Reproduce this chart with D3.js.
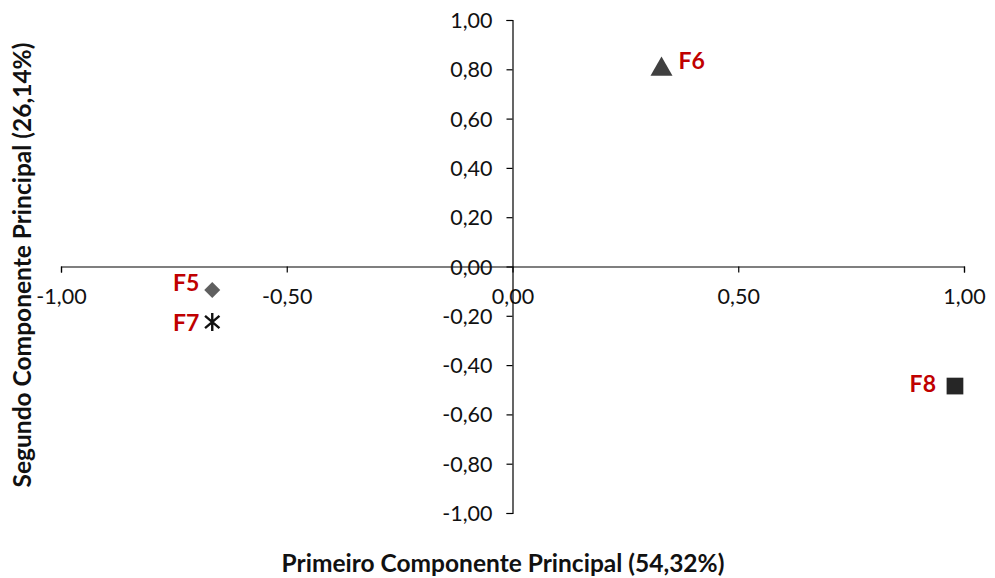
<!DOCTYPE html>
<html>
<head>
<meta charset="utf-8">
<script src="https://cdn.jsdelivr.net/npm/d3@7"></script>
<style>
  html, body { margin: 0; padding: 0; background: #fff; }
  svg { display: block; }
</style>
</head>
<body>
<svg id="chart" width="995" height="578"></svg>
<script>
// Factor loadings on the first two principal components
const names   = ["F5", "F6", "F7", "F8"];
const pc1     = [-0.665, 0.33, -0.665, 0.98];
const pc2     = [-0.095, 0.80, -0.225, -0.485];
const symbols = ["diamond", "triangle", "asterisk", "square"];
const colors  = ["#5f5f5f", "#404040", "#111111", "#262626"];

const xTicks = [-1, -0.5, 0, 0.5, 1];
const yTicks = [1, 0.8, 0.6, 0.4, 0.2, 0, -0.2, -0.4, -0.6, -0.8, -1];

const xTitle = "Primeiro Componente Principal (54,32%)";
const yTitle = "Segundo Componente Principal (26,14%)";

// Decimal comma and a plain hyphen for negatives
const fmt = v => (v < 0 ? "-" : "") + Math.abs(v).toFixed(2).replace(".", ",");
const font = "Lato, 'Open Sans', sans-serif";

const svg = d3.select("#chart");
const x = d3.scaleLinear().domain([-1, 1]).range([61, 964]);
const y = d3.scaleLinear().domain([-1, 1]).range([513, 20]);

// Horizontal axis through y = 0, ticks hanging below
const gx = svg.append("g").attr("transform", `translate(0,${y(0)})`)
  .call(d3.axisBottom(x).tickValues(xTicks).tickFormat(fmt).tickSize(6).tickPadding(16));
// Vertical axis through x = 0, ticks to the left
const gy = svg.append("g").attr("transform", `translate(${x(0)},0)`)
  .call(d3.axisLeft(y).tickValues(yTicks).tickFormat(fmt).tickSize(6).tickPadding(14));

[gx, gy].forEach(g => {
  g.select(".domain").attr("stroke", "#000").attr("stroke-width", 1.2);
  g.selectAll(".tick line").attr("stroke", "#000").attr("stroke-width", 1.2);
  g.selectAll(".tick text").attr("font-family", font).attr("font-size", 21.5)
    .attr("fill", "#111");
});
gy.selectAll(".tick text").attr("dy", "0.35em");

// Marker shapes
const diamond = r => `M0,${-r}L${r},0L0,${r}L${-r},0Z`;
const star = r => {
  const d = r * 0.8;
  return `M0,${-r}L0,${r}M${-d},${-d * 0.85}L${d},${d * 0.85}M${-d},${d * 0.85}L${d},${-d * 0.85}`;
};
const pathFor = {
  diamond: () => diamond(8),
  triangle: d3.symbol().type(d3.symbolTriangle).size(210),
  square: d3.symbol().type(d3.symbolSquare).size(280),
  asterisk: () => star(9)
};
const pts = svg.append("g");
names.forEach((n, i) => {
  const s = symbols[i];
  const p = pts.append("path")
    .attr("d", pathFor[s]())
    .attr("transform", `translate(${x(pc1[i])},${y(pc2[i])})`);
  if (s === "asterisk") {
    p.attr("fill", "none").attr("stroke", colors[i]).attr("stroke-width", 2.4);
  } else {
    p.attr("fill", colors[i]);
  }
});

// Point labels
const labelPos = {
  F5: { dx: -13, dy: -7, anchor: "end" },
  F6: { dx: 17, dy: -8, anchor: "start" },
  F7: { dx: -13, dy: 1, anchor: "end" },
  F8: { dx: -19, dy: -2, anchor: "end" }
};
names.forEach((n, i) => {
  const lp = labelPos[n];
  svg.append("text")
    .attr("x", x(pc1[i]) + lp.dx)
    .attr("y", y(pc2[i]) + lp.dy)
    .attr("dy", "0.35em")
    .attr("text-anchor", lp.anchor)
    .attr("font-family", font).attr("font-weight", "bold").attr("font-size", 23)
    .attr("fill", "#c00000")
    .text(n);
});

// Axis titles
svg.append("text")
  .attr("x", 503).attr("y", 563).attr("dy", "0.35em")
  .attr("text-anchor", "middle")
  .attr("font-family", font).attr("font-weight", "bold").attr("font-size", 24.5)
  .attr("fill", "#111").text(xTitle);
svg.append("text")
  .attr("transform", "translate(22,265) rotate(-90)")
  .attr("dy", "0.35em")
  .attr("text-anchor", "middle")
  .attr("font-family", font).attr("font-weight", "bold").attr("font-size", 24.5)
  .attr("fill", "#111").text(yTitle);
</script>
</body>
</html>
